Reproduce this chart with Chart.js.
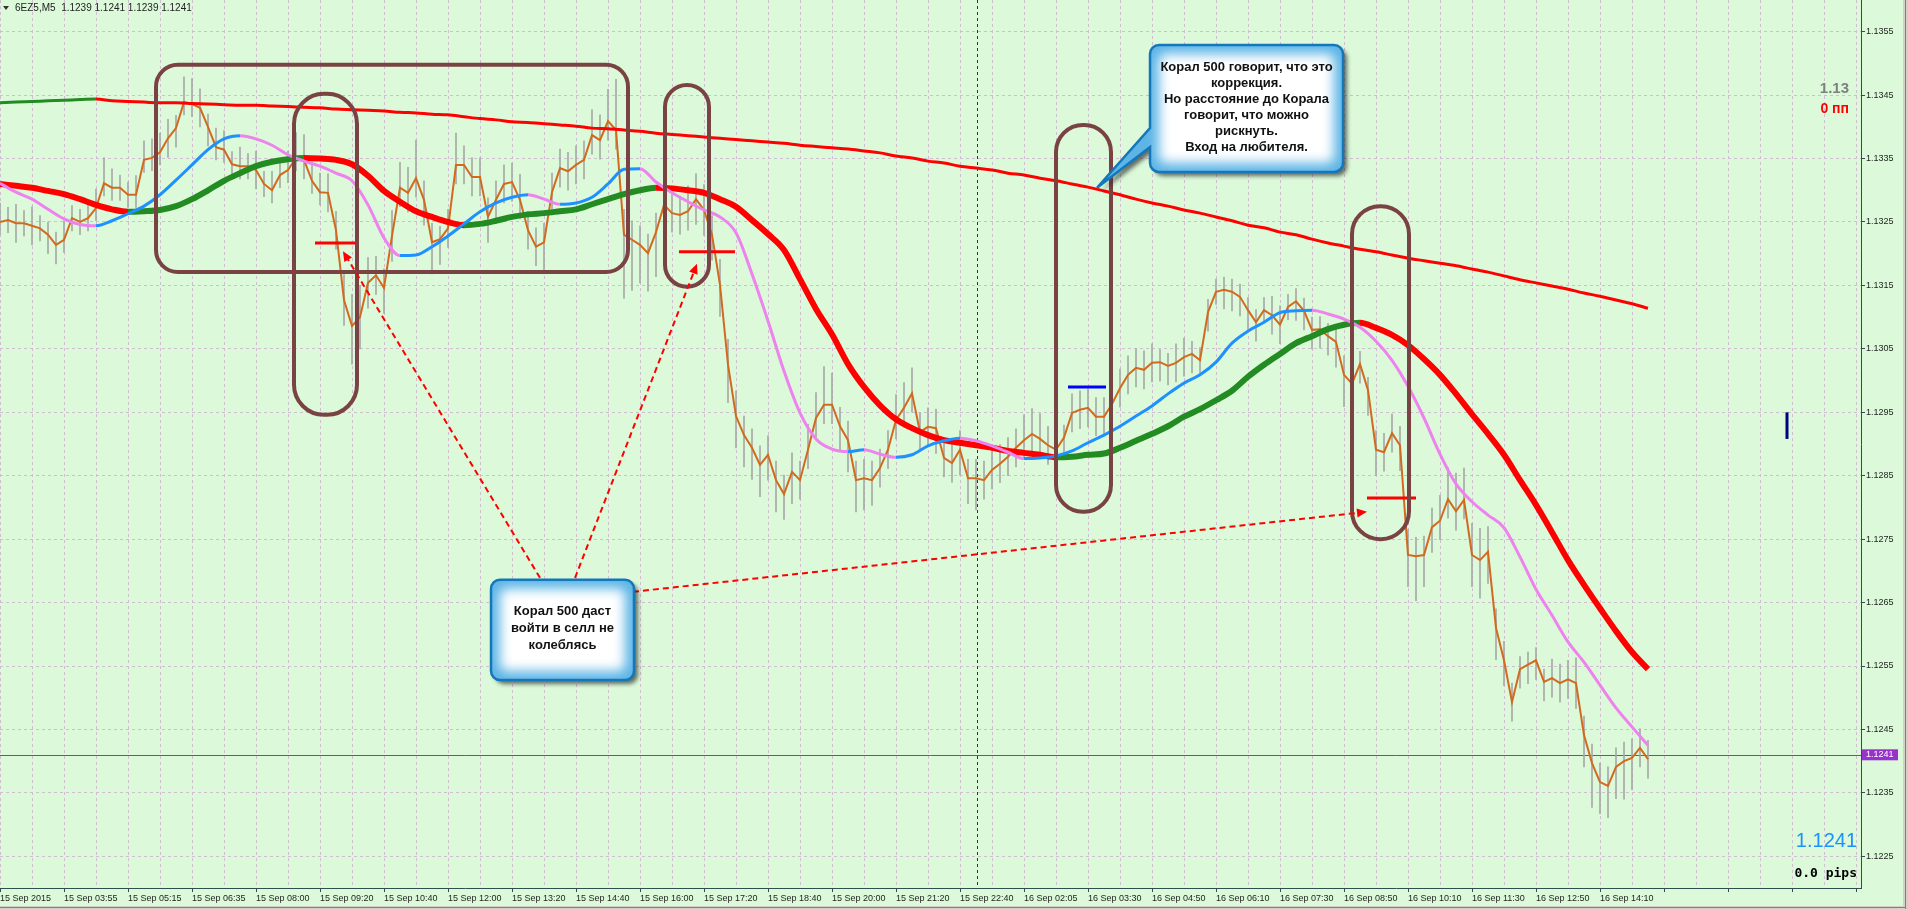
<!DOCTYPE html>
<html><head><meta charset="utf-8">
<script src="https://cdn.jsdelivr.net/npm/chart.js@4.4.1/dist/chart.umd.min.js"></script>
<style>html,body{margin:0;padding:0;background:#dcfada;overflow:hidden}canvas{display:block}</style>
</head><body>
<canvas id="c" width="1908" height="909"></canvas>
<script>
// ---------- DATA ----------
const X_LABELS = ["15 Sep 2015","15 Sep 03:55","15 Sep 05:15","15 Sep 06:35","15 Sep 08:00","15 Sep 09:20","15 Sep 10:40","15 Sep 12:00","15 Sep 13:20","15 Sep 14:40","15 Sep 16:00","15 Sep 17:20","15 Sep 18:40","15 Sep 20:00","15 Sep 21:20","15 Sep 22:40","16 Sep 02:05","16 Sep 03:30","16 Sep 04:50","16 Sep 06:10","16 Sep 07:30","16 Sep 08:50","16 Sep 10:10","16 Sep 11:30","16 Sep 12:50","16 Sep 14:10"];
const Y_TICKS = [1.1225,1.1235,1.1245,1.1255,1.1265,1.1275,1.1285,1.1295,1.1305,1.1315,1.1325,1.1335,1.1345,1.1355];

// close price, one value every 2 bars (M5)
const CLOSE = [
1.13250,1.13253,1.13248,1.13248,1.13244,1.13240,1.13230,1.13214,1.13222,1.13256,
1.13250,1.13256,1.13272,1.13311,1.13304,1.13304,1.13293,1.13293,1.13348,1.13351,
1.13360,1.13382,1.13398,1.13439,1.13436,1.13430,1.13400,1.13368,1.13364,1.13341,
1.13338,1.13338,1.13332,1.13310,1.13300,1.13324,1.13332,1.13351,1.13348,1.13315,
1.13297,1.13296,1.13237,1.13127,1.13086,1.13100,1.13154,1.13166,1.13146,1.13228,
1.13304,1.13296,1.13319,1.13285,1.13218,1.13223,1.13240,1.13340,1.13340,1.13321,
1.13321,1.13258,1.13285,1.13310,1.13313,1.13285,1.13237,1.13211,1.13218,1.13297,
1.13335,1.13330,1.13340,1.13348,1.13387,1.13379,1.13409,1.13395,1.13230,1.13222,
1.13214,1.13201,1.13234,1.13277,1.13264,1.13261,1.13267,1.13286,1.13269,1.13230,
1.13151,1.13025,1.12944,1.12914,1.12894,1.12867,1.12883,1.12843,1.12821,1.12856,
1.12843,1.12891,1.12941,1.12962,1.12962,1.12928,1.12906,1.12843,1.12846,1.12843,
1.12862,1.12891,1.12938,1.12957,1.12980,1.12919,1.12927,1.12925,1.12878,1.12870,
1.12891,1.12846,1.12846,1.12843,1.12859,1.12869,1.12880,1.12894,1.12906,1.12916,
1.12908,1.12898,1.12891,1.12910,1.12949,1.12954,1.12957,1.12943,1.12943,1.12963,
1.12988,1.13009,1.13020,1.13017,1.13028,1.13029,1.13023,1.13028,1.13037,1.13042,
1.13032,1.13108,1.13140,1.13143,1.13140,1.13132,1.13111,1.13092,1.13111,1.13103,
1.13088,1.13116,1.13125,1.13110,1.13080,1.13081,1.13070,1.13061,1.13009,1.12995,
1.13026,1.12985,1.12891,1.12887,1.12917,1.12898,1.12725,1.12723,1.12725,1.12769,
1.12779,1.12813,1.12794,1.12812,1.12725,1.12717,1.12730,1.12610,1.12559,1.12493,
1.12545,1.12552,1.12559,1.12525,1.12531,1.12523,1.12529,1.12523,1.12441,1.12397,
1.12367,1.12361,1.12391,1.12400,1.12405,1.12421,1.12403];
// bar range above / below the close, in pips, same sampling as CLOSE
const WICK_UP_PIPS = [
3,2,3,2,3,2,2,2,3,2, 2,2,3,4,3,2,2,3,3,3, 3,3,2,4,4,3,2,3,3,2, 3,2,3,2,3,2,3,4,4,3,
3,3,3,4,5,5,4,3,3,4, 4,4,6,3,3,2,3,5,3,3, 3,3,3,3,3,4,3,3,3,3, 3,3,3,3,4,4,5,8,4,3,
3,3,3,4,3,3,4,4,4,3, 4,4,4,3,3,3,3,3,3,3, 3,4,4,6,5,3,3,3,3,3, 3,3,4,4,4,3,3,3,3,3,
3,3,3,3,3,3,3,3,4,4, 4,3,2,2,3,3,3,3,3,4, 3,3,3,3,3,2,2,3,3,2, 2,2,2,2,2,2,2,2,2,3,
3,2,2,2,2,2,2,2,3,3, 2,2,3,3,3,3,4,3,3,3, 4,5,6,5,5,5,4,3,3,3, 2,2,2,2,3,3,3,4,3,3,
3,3,3,3,3,3,3];
const WICK_DN_PIPS = [
2,2,3,2,3,2,3,3,2,2, 2,2,2,2,2,2,2,2,2,2, 2,3,3,2,2,3,3,2,2,2, 2,2,3,2,2,2,2,2,3,2,
2,3,3,4,6,5,4,3,4,4, 3,3,3,4,5,4,3,3,3,3, 3,4,3,3,3,3,3,3,5,3, 3,3,3,3,3,3,3,3,10,8,
6,6,7,5,3,3,3,4,4,4, 5,6,5,5,5,5,4,5,4,5, 3,3,3,3,3,4,5,5,5,4, 3,3,3,3,3,3,3,4,3,3,
4,4,5,3,3,3,3,3,3,3, 2,3,3,3,3,3,3,3,3,3, 3,3,3,3,3,3,3,3,3,3, 2,3,2,3,3,3,3,3,2,3,
3,2,3,3,3,3,3,4,5,5, 3,4,4,3,3,4,5,7,5,4, 3,3,3,3,5,6,5,5,4,3, 3,3,3,3,3,3,3,4,5,7,
5,5,5,6,5,3,3];

// moving averages, one value every 4 bars
const MA_LONG = [
1.13438,1.13439,1.13440,1.13441,1.13442,1.13443,1.13444,1.13441,1.13440,1.13439,
1.13438,1.13438,1.13437,1.13436,1.13435,1.13434,1.13434,1.13433,1.13432,1.13431,
1.13430,1.13428,1.13427,1.13426,1.13425,1.13423,1.13422,1.13420,1.13419,1.13416,
1.13413,1.13411,1.13408,1.13407,1.13405,1.13403,1.13401,1.13398,1.13397,1.13395,
1.13393,1.13390,1.13388,1.13386,1.13384,1.13382,1.13380,1.13378,1.13376,1.13374,
1.13371,1.13369,1.13367,1.13365,1.13362,1.13359,1.13354,1.13351,1.13346,1.13343,
1.13338,1.13335,1.13332,1.13327,1.13324,1.13319,1.13315,1.13310,1.13305,1.13299,
1.13293,1.13286,1.13280,1.13275,1.13269,1.13264,1.13258,1.13252,1.13245,1.13241,
1.13234,1.13230,1.13223,1.13217,1.13212,1.13207,1.13203,1.13198,1.13193,1.13189,
1.13185,1.13181,1.13176,1.13171,1.13165,1.13159,1.13154,1.13149,1.13144,1.13138,
1.13133,1.13127,1.13121,1.13114];
const MA_CORAL = [
1.13310,1.13307,1.13304,1.13299,1.13294,1.13286,1.13277,1.13270,1.13266,1.13267,
1.13269,1.13275,1.13286,1.13300,1.13315,1.13327,1.13338,1.13345,1.13349,1.13351,
1.13350,1.13348,1.13341,1.13323,1.13299,1.13282,1.13267,1.13258,1.13250,1.13245,
1.13247,1.13252,1.13258,1.13262,1.13264,1.13267,1.13270,1.13278,1.13286,1.13294,
1.13300,1.13304,1.13303,1.13300,1.13296,1.13286,1.13274,1.13253,1.13231,1.13206,
1.13160,1.13113,1.13073,1.13026,1.12990,1.12961,1.12939,1.12925,1.12914,1.12906,
1.12902,1.12898,1.12894,1.12889,1.12886,1.12883,1.12879,1.12880,1.12883,1.12885,
1.12894,1.12905,1.12916,1.12928,1.12943,1.12955,1.12969,1.12984,1.13006,1.13025,
1.13042,1.13059,1.13070,1.13081,1.13088,1.13091,1.13083,1.13072,1.13056,1.13034,
1.13009,1.12979,1.12947,1.12916,1.12883,1.12843,1.12804,1.12761,1.12717,1.12678,
1.12641,1.12605,1.12572,1.12545];
const MA_FAST = [
1.13311,1.13297,1.13286,1.13270,1.13255,1.13246,1.13244,1.13252,1.13263,1.13275,
1.13293,1.13316,1.13340,1.13364,1.13381,1.13386,1.13381,1.13371,1.13356,1.13346,
1.13338,1.13327,1.13315,1.13277,1.13225,1.13197,1.13198,1.13211,1.13228,1.13247,
1.13266,1.13280,1.13289,1.13293,1.13286,1.13278,1.13280,1.13289,1.13310,1.13333,
1.13334,1.13313,1.13296,1.13282,1.13269,1.13258,1.13233,1.13168,1.13094,1.13015,
1.12949,1.12908,1.12892,1.12888,1.12891,1.12884,1.12879,1.12883,1.12897,1.12905,
1.12909,1.12905,1.12897,1.12887,1.12877,1.12878,1.12881,1.12889,1.12902,1.12914,
1.12928,1.12944,1.12960,1.12979,1.12996,1.13009,1.13029,1.13059,1.13078,1.13092,
1.13107,1.13110,1.13111,1.13105,1.13097,1.13084,1.13062,1.13032,1.12991,1.12941,
1.12884,1.12837,1.12809,1.12788,1.12768,1.12722,1.12671,1.12630,1.12588,1.12556,
1.12520,1.12484,1.12454,1.12425];
const BID = 1.1241;
const HEADER = "6EZ5,M5  1.1239 1.1241 1.1239 1.1241";
const NOTE_1 = ["Корал 500 говорит, что это","коррекция.","Но расстояние до Корала","говорит, что можно","рискнуть.","Вход на любителя."];
const NOTE_2 = ["Корал 500 даст","войти в селл не","колеблясь"];

// ---------- LAYOUT / STYLE (in bar / price units) ----------
const BARS_PER_CLOSE = 2, BARS_PER_MA = 4, BARS_PER_LABEL = 16, BARS_PER_GRID = 8;
const PIP = 0.0001;
const X_MAX = 465.25, Y_MIN = 1.1220, Y_MAX = 1.1360;
const BOXES = [
  {b0:39, b1:157, p0:1.13498, p1:1.13171, r:22},
  {b0:73.5, b1:89.25, p0:1.13452, p1:1.12946, r:30},
  {b0:166.25, b1:177.25, p0:1.13466, p1:1.13148, r:22},
  {b0:264, b1:277.75, p0:1.13403, p1:1.12793, r:27},
  {b0:338, b1:352.25, p0:1.13275, p1:1.12750, r:28}
];
const LEVELS = [
  {b0:78.75, b1:88.75, p:1.13217, c:'#ff0000'},
  {b0:169.75, b1:183.75, p:1.13203, c:'#ff0000'},
  {b0:341.75, b1:354, p:1.12815, c:'#ff0000'},
  {b0:267, b1:276.5, p:1.12990, c:'#0000ff'}
];
const ARROWS = [
  {f:[135,1.12689], t:[85.75,1.13204]},
  {f:[143.75,1.12689], t:[174.25,1.13184]},
  {f:[158.25,1.12667], t:[341.75,1.12793]}
];
const CALLOUTS = [
  {b0:287.5, b1:335.75, p0:1.13529, p1:1.13329, lines:NOTE_1, lh:16, tail:{pt:1.13398, pb:1.13368, tb:274.25, tp:1.13304}},
  {b0:122.75, b1:158.5, p0:1.12686, p1:1.12528, lines:NOTE_2, lh:17}
];
const VLINE_BAR = 244.25;
const NAVY = {b:446.75, p0:1.12950, p1:1.12908};

const BG = '#dcfada', GRID = '#cdbfcd', AXIS = '#2f4f4f';

const closeData = CLOSE.map((v,i)=>({x:i*BARS_PER_CLOSE, y:v}));
const wickData = CLOSE.map((v,i)=>({x:i*BARS_PER_CLOSE, y:[v-WICK_DN_PIPS[i]*PIP, v+WICK_UP_PIPS[i]*PIP]}));
const maData = a => a.map((v,i)=>({x:i*BARS_PER_MA, y:v}));
const updown = (up,dn) => ({borderColor: c => c.p1.parsed.y > c.p0.parsed.y ? up : dn});

function roundPath(ctx,x0,y0,x1,y1,r,tail){
  ctx.beginPath();
  ctx.moveTo(x0+r,y0);
  ctx.lineTo(x1-r,y0); ctx.arcTo(x1,y0,x1,y0+r,r);
  ctx.lineTo(x1,y1-r); ctx.arcTo(x1,y1,x1-r,y1,r);
  ctx.lineTo(x0+r,y1); ctx.arcTo(x0,y1,x0,y1-r,r);
  if(tail){ ctx.lineTo(x0,tail.yb); ctx.lineTo(tail.tx,tail.ty); ctx.lineTo(x0,tail.yt); }
  ctx.lineTo(x0,y0+r); ctx.arcTo(x0,y0,x0+r,y0,r);
  ctx.closePath();
}

const annot = {
  id:'annot',
  beforeDraw(chart){
    const ctx = chart.ctx; ctx.save(); ctx.fillStyle = BG; ctx.fillRect(0,0,chart.width,chart.height); ctx.restore();
  },
  beforeDatasetsDraw(chart){
    const ctx = chart.ctx, xs = chart.scales.x, ys = chart.scales.y, a = chart.chartArea;
    ctx.save();
    const yb = Math.round(ys.getPixelForValue(BID)) + 0.5;
    ctx.strokeStyle = '#9932cc'; ctx.lineWidth = 1;
    ctx.beginPath(); ctx.moveTo(a.left,yb); ctx.lineTo(a.right,yb); ctx.stroke();
    const xv = Math.round(xs.getPixelForValue(VLINE_BAR)) + 0.5;
    ctx.strokeStyle = '#333'; ctx.setLineDash([3,3]);
    ctx.beginPath(); ctx.moveTo(xv,a.top); ctx.lineTo(xv,a.bottom); ctx.stroke();
    ctx.restore();
  },
  afterDatasetsDraw(chart){
    const ctx = chart.ctx, xs = chart.scales.x, ys = chart.scales.y;
    const X = b => xs.getPixelForValue(b), Y = p => ys.getPixelForValue(p);
    ctx.save();
    ctx.lineWidth = 3;
    LEVELS.forEach(l=>{ ctx.strokeStyle = l.c; ctx.beginPath(); ctx.moveTo(X(l.b0),Y(l.p)); ctx.lineTo(X(l.b1),Y(l.p)); ctx.stroke(); });
    ctx.strokeStyle = '#7a4343'; ctx.lineWidth = 4;
    BOXES.forEach(b=>{ roundPath(ctx,X(b.b0),Y(b.p0),X(b.b1),Y(b.p1),b.r); ctx.stroke(); });
    ctx.strokeStyle = '#ff0000'; ctx.fillStyle = '#ff0000'; ctx.lineWidth = 2;
    ARROWS.forEach(ar=>{
      const x0=X(ar.f[0]), y0=Y(ar.f[1]), x1=X(ar.t[0]), y1=Y(ar.t[1]);
      const ang = Math.atan2(y1-y0,x1-x0);
      const ex = x1 - 7*Math.cos(ang), ey = y1 - 7*Math.sin(ang);
      ctx.setLineDash([6,4]);
      ctx.beginPath(); ctx.moveTo(x0,y0); ctx.lineTo(ex,ey); ctx.stroke();
      ctx.setLineDash([]);
      ctx.beginPath();
      ctx.moveTo(x1,y1);
      ctx.lineTo(x1-10*Math.cos(ang)+4.5*Math.sin(ang), y1-10*Math.sin(ang)-4.5*Math.cos(ang));
      ctx.lineTo(x1-10*Math.cos(ang)-4.5*Math.sin(ang), y1-10*Math.sin(ang)+4.5*Math.cos(ang));
      ctx.closePath(); ctx.fill();
    });
    ctx.strokeStyle = '#000080'; ctx.lineWidth = 3;
    ctx.beginPath(); ctx.moveTo(X(NAVY.b),Y(NAVY.p0)); ctx.lineTo(X(NAVY.b),Y(NAVY.p1)); ctx.stroke();
    ctx.restore();
    CALLOUTS.forEach(c=>{
      const x0=X(c.b0), x1=X(c.b1), y0=Y(c.p0), y1=Y(c.p1), r=9;
      const tail = c.tail ? {yt:Y(c.tail.pt), yb:Y(c.tail.pb), tx:X(c.tail.tb), ty:Y(c.tail.tp)} : null;
      ctx.save();
      roundPath(ctx,x0,y0,x1,y1,r,tail);
      ctx.shadowColor='rgba(30,30,30,0.65)'; ctx.shadowOffsetX=4; ctx.shadowOffsetY=4; ctx.shadowBlur=4;
      ctx.fillStyle='#5db5e6'; ctx.fill();
      ctx.restore();
      ctx.save();
      roundPath(ctx,x0,y0,x1,y1,r,tail); ctx.clip();
      ctx.filter='blur(6px)'; ctx.fillStyle='#ffffff';
      ctx.beginPath(); ctx.roundRect(x0+9,y0+9,x1-x0-18,y1-y0-18,6); ctx.fill();
      ctx.filter='none';
      ctx.restore();
      ctx.save();
      roundPath(ctx,x0,y0,x1,y1,r,tail);
      ctx.strokeStyle='#1577bb'; ctx.lineWidth=2.5; ctx.stroke();
      ctx.fillStyle='#111'; ctx.font="bold 13px 'Liberation Sans', Arial, sans-serif";
      ctx.textAlign='center'; ctx.textBaseline='middle';
      const cx=(x0+x1)/2, cy=(y0+y1)/2 - 1, n=c.lines.length;
      c.lines.forEach((t,i)=> ctx.fillText(t, cx, cy + (i-(n-1)/2)*c.lh));
      ctx.restore();
    });
  },
  afterDraw(chart){
    const ctx = chart.ctx, ys = chart.scales.y, a = chart.chartArea;
    ctx.save();
    ctx.fillStyle='#333';
    ctx.beginPath(); ctx.moveTo(3,6); ctx.lineTo(9,6); ctx.lineTo(6,10); ctx.closePath(); ctx.fill();
    ctx.fillStyle='#222'; ctx.font="10px 'Liberation Sans', Arial, sans-serif"; ctx.textBaseline='middle'; ctx.textAlign='left';
    ctx.fillText(HEADER, 15, 8.5);
    ctx.textAlign='right';
    ctx.fillStyle='#808080'; ctx.font="bold 15px 'Liberation Sans', Arial, sans-serif"; ctx.fillText('1.13', 1849, 89);
    ctx.fillStyle='#ff0000'; ctx.font="bold 14px 'Liberation Sans', Arial, sans-serif"; ctx.fillText('0 пп', 1849, 109);
    ctx.fillStyle='#1e90ff'; ctx.font="20px 'Liberation Sans', Arial, sans-serif"; ctx.fillText(BID.toFixed(4), 1857, 841);
    ctx.fillStyle='#000'; ctx.font="bold 13px 'DejaVu Sans Mono', monospace"; ctx.fillText('0.0 pips', 1857, 874);
    const yb = ys.getPixelForValue(BID);
    ctx.fillStyle='#9932cc'; ctx.fillRect(a.right+1, yb-5.5, 36, 11);
    ctx.fillStyle='#fff'; ctx.font="9px 'Liberation Sans', Arial, sans-serif"; ctx.textAlign='left';
    ctx.fillText(BID.toFixed(4), a.right+5, yb);
    ctx.fillStyle='#d4d0c8'; ctx.fillRect(1903,0,5,909); ctx.fillRect(0,906,1908,3);
    ctx.fillStyle='#808080'; ctx.fillRect(1905,0,1,909); ctx.fillRect(0,907,1905,1);
    ctx.restore();
  }
};

new Chart(document.getElementById('c').getContext('2d'), {
  type:'line',
  data:{ datasets:[
    {type:'bar', data:wickData, backgroundColor:'#a9a9a9', barThickness:1, order:6},
    {type:'line', data:closeData, borderColor:'#d2691e', borderWidth:2, pointRadius:0, tension:0, order:5},
    {type:'line', data:maData(MA_LONG), borderColor:'#ff0000', borderWidth:3, pointRadius:0, cubicInterpolationMode:'monotone', segment:updown('#228b22','#ff0000'), order:4},
    {type:'line', data:maData(MA_CORAL), borderColor:'#ff0000', borderWidth:6, pointRadius:0, cubicInterpolationMode:'monotone', segment:updown('#228b22','#ff0000'), order:3},
    {type:'line', data:maData(MA_FAST), borderColor:'#ee82ee', borderWidth:3, pointRadius:0, cubicInterpolationMode:'monotone', segment:updown('#1e90ff','#ee82ee'), order:2}
  ]},
  options:{
    responsive:false, animation:false, maintainAspectRatio:false,
    layout:{padding:0},
    plugins:{legend:{display:false}, tooltip:{enabled:false}},
    scales:{
      x:{
        type:'linear', min:0, max:X_MAX, offset:false,
        afterBuildTicks: s => { const t=[]; for(let b=0;b<=X_MAX;b+=BARS_PER_GRID) t.push({value:b}); s.ticks=t; },
        afterFit: s => { s.height = 21; s.paddingLeft = 0; s.paddingRight = 0; },
        grid:{color:GRID, offset:false, tickLength:4, tickColor: c => (c.tick && c.tick.value % BARS_PER_LABEL === 0) ? AXIS : 'rgba(0,0,0,0)'},
        border:{color:AXIS, width:1, dash:[3,3]},
        ticks:{autoSkip:false, maxRotation:0, minRotation:0, align:'start', padding:1, color:'#1e1e1e',
          font:{family:"'Liberation Sans', Arial, sans-serif", size:9},
          callback: v => (v % BARS_PER_LABEL === 0 && X_LABELS[v/BARS_PER_LABEL] !== undefined) ? X_LABELS[v/BARS_PER_LABEL] : ''}
      },
      y:{
        type:'linear', position:'right', min:Y_MIN, max:Y_MAX,
        afterBuildTicks: s => { s.ticks = Y_TICKS.map(v=>({value:v})); },
        afterFit: s => { s.width = 47; s.paddingTop = 0; s.paddingBottom = 0; },
        grid:{color:GRID, tickLength:4, tickColor:AXIS},
        border:{color:AXIS, width:1, dash:[3,3]},
        ticks:{padding:1, color:'#1e1e1e', font:{family:"'Liberation Sans', Arial, sans-serif", size:9}, callback: v => Number(v).toFixed(4)}
      }
    }
  },
  plugins:[annot]
});
</script>
</body></html>
